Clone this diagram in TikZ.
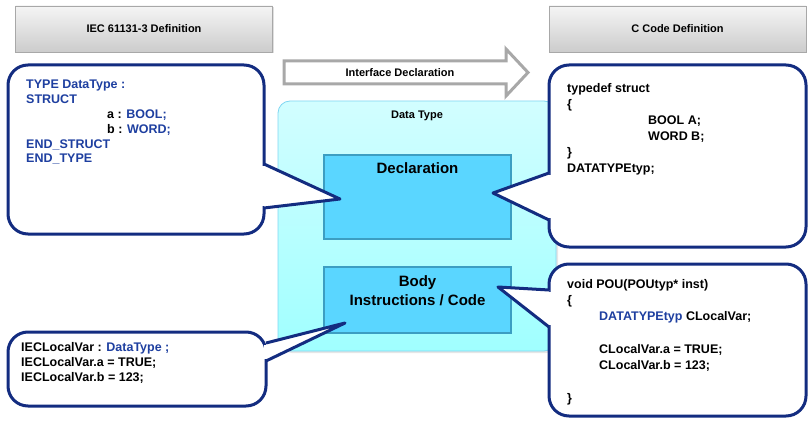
\documentclass[tikz,border=0pt]{standalone}
\usepackage{fontspec}
\setmainfont{Liberation Sans}
\usetikzlibrary{calc,positioning,shadows}
\definecolor{navy}{HTML}{132C80}
\definecolor{codeblue}{HTML}{1E3FA0}
\definecolor{hdrline}{HTML}{A8A8A8}
\definecolor{boxfill}{HTML}{5AD6FF}
\definecolor{boxline}{HTML}{3C9EC2}
\definecolor{dtline}{HTML}{7FD6F2}
\definecolor{dttop}{HTML}{D2FEFF}
\definecolor{dtbot}{HTML}{A0FFFF}
\newcommand\cb[1]{\textcolor{codeblue}{#1}}
\begin{document}
\begin{tikzpicture}[x=1pt,y=-1pt,
 hdr/.style={draw=hdrline,top color=black!4,bottom color=black!20,minimum width=257,minimum height=46,font=\bfseries\fontsize{11}{13}\selectfont,drop shadow={shadow xshift=1pt,shadow yshift=-1.5pt,opacity=.25}},
 bubble/.style={draw=navy,line width=3pt,fill=white,rounded corners=20,outer sep=0},
 ptr/.style={navy,line width=3pt,line join=round},
 code/.style={anchor=north west,inner sep=0,align=left,font=\bfseries\fontsize{12.5}{#1}\selectfont},
 part/.style={draw=boxline,line width=1.5pt,fill=boxfill,minimum width=187,outer sep=0},
 parttxt/.style={inner sep=0,align=center,font=\bfseries\fontsize{15}{19}\selectfont}]
\useasboundingbox (0,0) rectangle (810,425);
\node[hdr] (iechdr) at (144,29) {IEC 61131-3 Definition};
\node[hdr] (chdr) at (677.5,29) {C Code Definition};
\draw[hdrline,line width=3pt,fill=white,line join=miter] (284,61)--(506,61)--(506,49)--(528,72.5)--(506,96)--(506,84)--(284,84)--cycle;
\node[font=\bfseries\fontsize{11}{13}\selectfont] (iface) at (400,73) {Interface Declaration};
\node[draw=dtline,line width=.8pt,top color=dttop,bottom color=dtbot,rounded corners=12,minimum width=278,minimum height=250,drop shadow={shadow xshift=2pt,shadow yshift=-2pt,opacity=.2}] (dtype) at (417,226) {};
\node[inner sep=0,font=\bfseries\fontsize{11}{13}\selectfont,below=10pt of dtype.north] (dtlbl) {Data Type};
\node[part,minimum height=84] (decl) at (417.5,197) {};
\node[part,minimum height=66] (body) at (417.5,300) {};
\node[parttxt,below=7pt of decl.north] (decltxt) {Declaration};
\node[parttxt,below=8pt of body.north] (bodytxt) {Body\\Instructions / Code};
\node[bubble,minimum width=256,minimum height=169] (iecdecl) at (136,149.5) {};
\node[bubble,minimum width=258,minimum height=74] (ieclocal) at (137,369) {};
\node[bubble,minimum width=257,minimum height=182] (cdecl) at (677.5,156) {};
\node[bubble,minimum width=257,minimum height=152] (clocal) at (677.5,340) {};
\coordinate (t1) at ($(decl.west)+(16,2)$);
\coordinate (t2) at ($(body.south west)+(21,-10)$);
\coordinate (t3) at ($(decl.east)+(-18,-4)$);
\coordinate (t4) at ($(body.north east)+(-13,20)$);
\foreach \b/\ya/\yb/\t in {iecdecl.north east/99/143/t1,ieclocal.north east/11/29/t2,cdecl.north west/108/155/t3,clocal.north west/26/63/t4}{
 \fill[white] ($(\b)+(0,\ya)$)--(\t)--($(\b)+(0,\yb)$)--cycle;
 \draw[white,line width=3.6pt] ($(\b)+(0,\ya+2)$)--($(\b)+(0,\yb-2)$);
 \draw[ptr] ($(\b)+(0,\ya)$)--(\t)--($(\b)+(0,\yb)$);}
\node[code=14.8,text=codeblue] (iectype) at (26,80) {TYPE DataType :\\STRUCT\\\hspace*{81pt}\textcolor{black}{a :} BOOL;\\\hspace*{81pt}\textcolor{black}{b :} WORD;\\END\_STRUCT\\END\_TYPE};
\node[code=15] (iecvar) at (21,342) {IECLocalVar : \cb{DataType ;}\\IECLocalVar.a = TRUE;\\IECLocalVar.b = 123;};
\node[code=16] (cstruct) at (567,83) {typedef struct\\\{\\\hspace*{81pt}BOOL A;\\\hspace*{81pt}WORD B;\\\}\\DATATYPEtyp;};
\node[code=16.3] (cpou) at (567,279) {void POU(POUtyp* inst)\\\{\\\hspace*{32pt}\cb{DATATYPEtyp} CLocalVar;\\\mbox{}\\\hspace*{32pt}CLocalVar.a = TRUE;\\\hspace*{32pt}CLocalVar.b = 123;\\\mbox{}\\\}};
\end{tikzpicture}
\end{document}
